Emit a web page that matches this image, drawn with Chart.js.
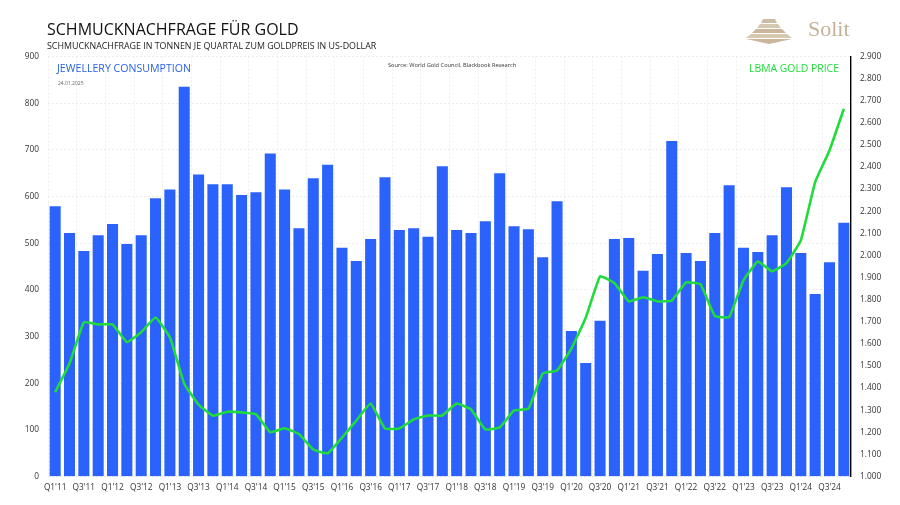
<!DOCTYPE html>
<html>
<head>
<meta charset="utf-8">
<script src="https://cdn.jsdelivr.net/npm/chart.js@4"></script>
<style>
  body { margin: 0; background: #fff; font-family: "Open Sans", sans-serif; }
  #wrap { position: relative; width: 900px; height: 505px; overflow: hidden; }
  #wrap div { position: absolute; white-space: nowrap; }
  .title { left: 47px; top: 18px; font-size: 16px; color: #111; }
  .subtitle { left: 47px; top: 40px; font-size: 8.88px; color: #222; }
  .left-label { left: 57px; top: 61px; font-size: 10.6px; color: #2a62e8; }
  .right-label { left: 749px; top: 61px; font-size: 10.4px; color: #1fdc3a; }
  .date { left: 58px; top: 80px; font-size: 5px; color: #666; }
  .source { left: 388px; top: 61px; font-size: 5.7px; color: #333; }
  .brand { left: 808px; top: 16px; font-family: "Liberation Serif", serif; font-size: 22px; color: #c4b196; }
  svg { position: absolute; left: 744px; top: 18px; }
</style>
</head>
<body>
<div id="wrap">
  <canvas id="chart" width="900" height="505"></canvas>
  <div class="title">SCHMUCKNACHFRAGE FÜR GOLD</div>
  <div class="subtitle">SCHMUCKNACHFRAGE IN TONNEN JE QUARTAL ZUM GOLDPREIS IN US-DOLLAR</div>
  <div class="left-label">JEWELLERY CONSUMPTION</div>
  <div class="right-label">LBMA GOLD PRICE</div>
  <div class="date">24.01.2025</div>
  <div class="source">Source: World Gold Council, Blackbook Research</div>
  <div class="brand">Solit</div>
  <svg width="50" height="26" viewBox="0 0 50 26">
    <polygon points="19,1 31,1 33,5 17,5" fill="#cdbca4"/>
    <polygon points="16,6 34,6 37,10 13,10" fill="#d6c7b1"/>
    <polygon points="12,11 38,11 42,15 8,15" fill="#c9b69c"/>
    <polygon points="7,16 43,16 48,20 2,20" fill="#d6c7b1"/>
    <polygon points="2,21 48,21 25,26" fill="#c9b69c"/>
  </svg>
</div>
<script>
const quarters = ["Q1'11","Q2'11","Q3'11","Q4'11","Q1'12","Q2'12","Q3'12","Q4'12",
  "Q1'13","Q2'13","Q3'13","Q4'13","Q1'14","Q2'14","Q3'14","Q4'14",
  "Q1'15","Q2'15","Q3'15","Q4'15","Q1'16","Q2'16","Q3'16","Q4'16",
  "Q1'17","Q2'17","Q3'17","Q4'17","Q1'18","Q2'18","Q3'18","Q4'18",
  "Q1'19","Q2'19","Q3'19","Q4'19","Q1'20","Q2'20","Q3'20","Q4'20",
  "Q1'21","Q2'21","Q3'21","Q4'21","Q1'22","Q2'22","Q3'22","Q4'22",
  "Q1'23","Q2'23","Q3'23","Q4'23","Q1'24","Q2'24","Q3'24","Q4'24"];

const jewellery = [579,522,483,517,541,498,517,596,
  615,835,647,626,626,603,609,692,
  615,532,639,668,490,462,509,641,
  528,532,514,665,528,522,547,650,
  536,530,470,590,312,243,334,509,
  511,441,477,719,479,462,522,624,
  490,481,517,620,479,391,459,544];

const goldPrice = [1381,1511,1698,1688,1688,1608,1653,1719,
  1630,1420,1325,1275,1293,1290,1282,1200,
  1218,1192,1122,1105,1176,1253,1330,1217,
  1217,1258,1276,1276,1330,1303,1213,1222,
  1299,1307,1466,1480,1579,1718,1906,1875,
  1792,1811,1792,1796,1878,1870,1727,1721,
  1887,1973,1928,1965,2068,2332,2475,2663];

const deNumber = (v) => v.toLocaleString("de-DE");
const gridColor = "#e6e6e6";
const tickFont = { family: "Open Sans", size: 8.3 };

new Chart(document.getElementById("chart"), {
  data: {
    labels: quarters,
    datasets: [
      {
        type: "line",
        data: goldPrice,
        yAxisID: "yGold",
        borderColor: "#1fdc3a",
        borderWidth: 2.6,
        pointRadius: 0,
        tension: 0.1,
        order: 0,
      },
      {
        type: "bar",
        data: jewellery,
        yAxisID: "yTons",
        backgroundColor: "#2a62fb",
        categoryPercentage: 1,
        barPercentage: 0.77,
        order: 1,
      },
    ],
  },
  options: {
    responsive: false,
    animation: false,
    layout: { padding: { top: 56.5, bottom: 0, left: 0, right: 0 } },
    plugins: { legend: { display: false }, tooltip: { enabled: false } },
    scales: {
      x: {
        offset: true,
        afterFit: (scale) => { scale.height = 28.5; },
        grid: {
          offset: true,
          drawTicks: false,
          color: (ctx) => (ctx.index % 2 === 0 ? gridColor : "transparent"),
          lineWidth: 0.7,
        },
        border: { display: false, dash: [2, 2] },
        ticks: {
          autoSkip: false,
          maxRotation: 0,
          padding: 6,
          color: "#333",
          font: tickFont,
          callback: (v, i) => (i % 2 === 0 ? quarters[i] : ""),
        },
      },
      yTons: {
        position: "left",
        min: 0,
        max: 900,
        afterFit: (scale) => { scale.width = 48; },
        grid: { color: gridColor, lineWidth: 0.7, drawTicks: false },
        border: { display: false, dash: [2, 2] },
        ticks: {
          stepSize: 100,
          padding: 9,
          color: "#333",
          font: tickFont,
        },
      },
      yGold: {
        position: "right",
        min: 1000,
        max: 2900,
        afterFit: (scale) => { scale.width = 49; },
        grid: { drawOnChartArea: false, drawTicks: false },
        border: { display: true, color: "#000", width: 1.4 },
        ticks: {
          stepSize: 100,
          padding: 9,
          autoSkip: false,
          color: "#333",
          font: tickFont,
          callback: (v) => deNumber(v),
        },
      },
    },
  },
});
</script>
</body>
</html>
